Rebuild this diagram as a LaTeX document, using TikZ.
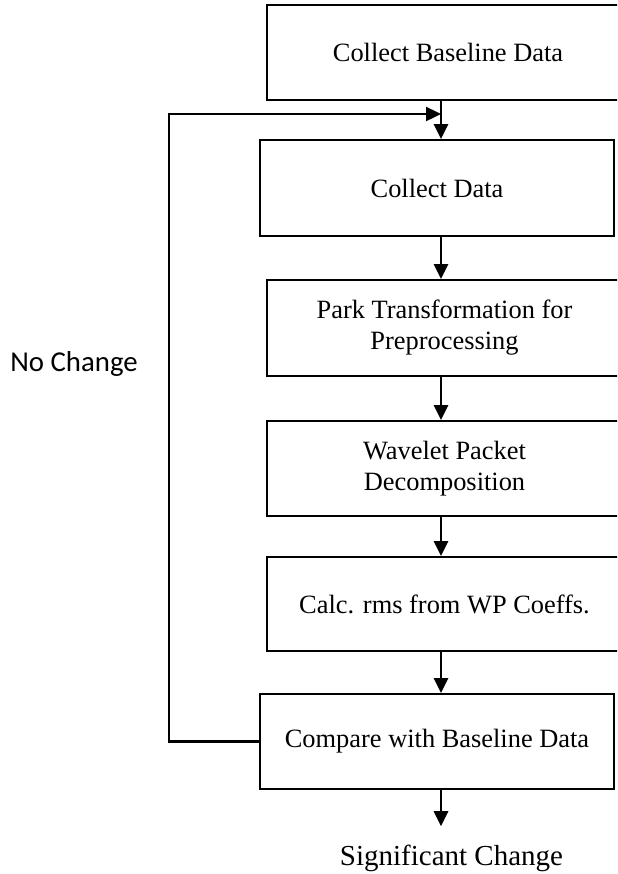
\documentclass[tikz,border=0pt]{standalone}
\usepackage{fontspec}
\setmainfont{Liberation Serif}
\newfontfamily\labelfont{Carlito}
\usetikzlibrary{arrows.meta}

\begin{document}
\begin{tikzpicture}[x=0.5pt,y=-0.5pt,
    stage/.style={draw,line width=1pt,align=center,inner sep=0pt,
      font=\fontsize{13.2}{15.5}\selectfont},
    flow/.style={line width=1.4pt,-{Triangle[width=7pt,length=7.5pt]}}]
    \useasboundingbox (0,0) rectangle (617,874);
    \clip (0,0) rectangle (617,874);

    \node[stage,minimum width=181pt,minimum height=47.5pt] at (448,52.5) (baseData) {Collect Baseline Data};
    \node[stage,minimum width=177pt,minimum height=48pt] at (437,188) (collectData) {Collect Data};
    \node[stage,minimum width=177.5pt,minimum height=48pt] at (444.5,328) (parkTrans) {Park Transformation for\\Preprocessing};
    \node[stage,minimum width=177.5pt,minimum height=47.5pt] at (444.5,468.5) (wpDecomp) {Wavelet Packet\\Decomposition};
    \node[stage,minimum width=177.5pt,minimum height=47pt] at (444.5,604) (calcRms) {Calc. rms from WP Coeffs.};
    \node[stage,minimum width=177pt,minimum height=47.5pt] at (437,741.5) (compare) {Compare with Baseline Data};

    \node[anchor=base,inner xsep=0pt,inner ysep=9pt,font=\fontsize{14.5}{17}\selectfont] at (451.5,865) (sigChange) {Significant Change};
    \node[anchor=base,font=\labelfont\fontsize{14.4}{17}\selectfont] at (74,371) (noChange) {No Change};

    \coordinate (spine) at (441,0);
    \coordinate (loopTop) at (169,114);
    \coordinate (merge) at (spine |- loopTop);

    \draw[flow] (baseData.south -| spine) -- (collectData.north -| spine);
    \draw[flow] (collectData.south -| spine) -- (parkTrans.north -| spine);
    \draw[flow] (parkTrans.south -| spine) -- (wpDecomp.north -| spine);
    \draw[flow] (wpDecomp.south -| spine) -- (calcRms.north -| spine);
    \draw[flow] (calcRms.south -| spine) -- (compare.north -| spine);
    \draw[flow] (compare.south -| spine) -- (sigChange.north -| spine);

    \draw[flow,line width=1.2pt] (compare.west) -| (loopTop) -- (merge);
\end{tikzpicture}
\end{document}
